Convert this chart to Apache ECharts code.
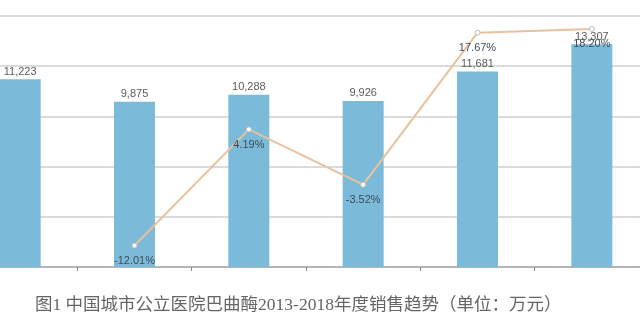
<!DOCTYPE html>
<html>
<head>
<meta charset="utf-8">
<script src="https://cdn.jsdelivr.net/npm/echarts@6/dist/echarts.min.js"></script>
<style>
  html, body { margin: 0; padding: 0; background: #ffffff; overflow: hidden; }
  #frame { position: relative; width: 640px; height: 330px; overflow: hidden; }
  /* plot area runs a little past both edges of the frame */
  #chart { position: absolute; left: -37px; top: 0; width: 686px; height: 330px; }
</style>
</head>
<body>
<div id="frame"><div id="chart"></div></div>
<script>
// Batroxobin sales in Chinese city public hospitals, 2013-2018
const years = ['2013', '2014', '2015', '2016', '2017', '2018'];
const sales = [11223, 9875, 10288, 9926, 11681, 13307];        // 万元
const growth = [null, -12.01, 4.19, -3.52, 17.67, 18.20];      // %
const caption = '图1 中国城市公立医院巴曲酶2013-2018年度销售趋势（单位：万元）';

function thousands(v) {
  return String(v).replace(/\B(?=(\d{3})+(?!\d))/g, ',');
}

const chart = echarts.init(document.getElementById('chart'), null, { renderer: 'canvas' });

chart.setOption({
  animation: false,
  backgroundColor: '#ffffff',
  title: {
    text: caption,
    left: 67,
    top: 292,
    textStyle: {
      fontFamily: '"Liberation Serif", "Noto Sans CJK SC", serif',
      fontSize: 17.5,
      fontWeight: 'normal',
      color: '#656565'
    }
  },
  grid: { left: 0, right: 0, top: 16, bottom: 63, containLabel: false },
  xAxis: {
    type: 'category',
    data: years,
    axisLine: { lineStyle: { color: '#a9a9a9', width: 1.5 } },
    axisTick: { show: true, length: 4, lineStyle: { color: '#8a8a8a' } },
    axisLabel: { show: false }
  },
  yAxis: [
    {
      type: 'value',
      min: 0,
      max: 15000,
      interval: 3000,
      axisLabel: { show: false },
      axisLine: { show: false },
      axisTick: { show: false },
      splitLine: { lineStyle: { color: '#cfcfcf', width: 1.5 } }
    },
    {
      type: 'value',
      min: -15,
      max: 20,
      interval: 5,
      show: false,
      splitLine: { show: false }
    }
  ],
  series: [
    {
      name: '销售额',
      type: 'bar',
      data: sales,
      barWidth: 41,
      itemStyle: { color: '#7bbbd9' },
      label: {
        show: true,
        position: 'top',
        distance: 2,
        formatter: p => thousands(p.value),
        fontFamily: '"Liberation Sans", Arial, sans-serif',
        fontSize: 11,
        color: '#5a5a5a'
      }
    },
    {
      name: '增长率',
      type: 'line',
      yAxisIndex: 1,
      data: growth,
      connectNulls: false,
      symbol: 'circle',
      symbolSize: 5,
      itemStyle: { color: '#ffffff', borderColor: '#bdbdbd', borderWidth: 1 },
      lineStyle: { color: '#e6c29e', width: 2 },
      label: {
        show: true,
        position: 'bottom',
        distance: 7,
        formatter: p => p.value.toFixed(2) + '%',
        fontFamily: '"Liberation Sans", Arial, sans-serif',
        fontSize: 11,
        color: '#3f4b5b'
      },
      z: 3
    }
  ]
});
</script>
</body>
</html>
